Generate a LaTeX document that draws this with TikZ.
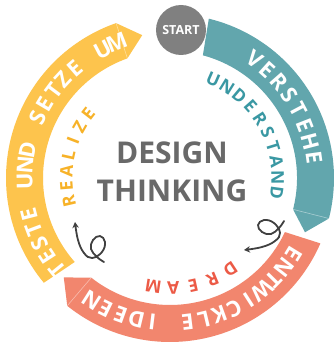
\documentclass[tikz,border=0pt]{standalone}
\usepackage{fontspec}
\setmainfont{Open Sans}
\usetikzlibrary{arrows.meta}
\definecolor{tealband}{RGB}{98,166,173}
\definecolor{salmonband}{RGB}{242,134,110}
\definecolor{orangeband}{RGB}{253,196,77}
\definecolor{startgray}{RGB}{128,128,128}
\definecolor{titlegray}{RGB}{105,105,105}
\definecolor{understandc}{RGB}{58,152,163}
\definecolor{realizec}{RGB}{247,178,40}
\definecolor{dreamc}{RGB}{236,90,70}
\definecolor{swirlc}{RGB}{64,64,64}
\tikzset{
  fold/.style={draw=white, draw opacity=0.45, line width=0.6pt},
  swirl/.style={draw=swirlc, line width=1.8pt, line cap=round, -{Stealth[length=6pt,width=6.5pt]}},
  titletext/.style={text=titlegray, font=\bfseries\fontsize{30pt}{30pt}\selectfont, anchor=base, inner sep=0pt},
  ringletter/.style={anchor=base, inner sep=0pt},
}
\newlength\rtw
\newlength\rtotal
\newlength\rpos
\newcount\rtn
\newcommand\rsp{\hspace*{0.12em}}
% #1 baseline radius, #2 start angle, #3 end angle (clockwise), #4 font, #5 colour, #6 letters
\newcommand\ringtext[6]{%
  \global\rtotal=0pt\relax
  \global\rtn=0\relax
  \foreach \rl in {#6}{%
    \settowidth{\rtw}{#4\rl}%
    \global\advance\rtotal by \rtw
    \global\advance\rtn by 1\relax
  }%
  \pgfmathsetmacro\rtextra{((#1)*pi/180*((#2)-(#3)) - \the\rtotal)/(\the\rtn-1)}%
  \global\rpos=0pt\relax
  \foreach \rl in {#6}{%
    \settowidth{\rtw}{#4\rl}%
    \pgfmathsetmacro\rtang{(#2) - (\the\rpos + 0.5*\the\rtw)/(#1)*180/pi}%
    \node[ringletter, text=#5, rotate=\rtang-90] at (\rtang:#1pt) {#4\rl};
    \global\advance\rpos by \rtw
    \global\advance\rpos by \rtextra pt\relax
  }%
}
\begin{document}
\begin{tikzpicture}[x=1pt,y=1pt]
\useasboundingbox (-170pt,-165pt) rectangle (164pt,178pt);
\fill[white] (-170pt,-165pt) rectangle (164pt,178pt);
% teal band
\fill[tealband] (76.3:164pt) arc[start angle=76.3, end angle=-14.3, radius=164pt]
  -- (-21.9:145.5pt) -- (-14.3:127pt) arc[start angle=-14.3, end angle=75, radius=127pt] -- cycle;
\draw[fold] (-14.3:127pt) -- (-14.3:164pt);
% salmon band
\fill[salmonband] (-23.5:164pt) arc[start angle=-23.5, end angle=-128.8, radius=164pt]
  -- (-136.9:145.5pt) -- (-128.3:127pt) arc[start angle=-128.3, end angle=-25.2, radius=127pt] -- cycle;
\draw[fold] (-128.3:127pt) -- (-128.8:164pt);
% orange band
\fill[orangeband] (219.7:164pt) arc[start angle=219.7, end angle=109.2, radius=164pt]
  -- (101:145.5pt) -- (109.6:127pt) arc[start angle=109.6, end angle=221.4, radius=127pt] -- cycle;
\draw[fold] (109.6:127pt) -- (109.2:164pt);
% start
\node[circle, fill=startgray, minimum size=50pt, inner sep=0pt, text=white,
  font=\bfseries\fontsize{12.5pt}{12.5pt}\selectfont] (start) at (11pt,148pt) {START};
% ring texts
\ringtext{137.5}{54.5}{8}{\bfseries\fontsize{22pt}{22pt}\selectfont}{white}{V,E,R,S,T,E,H,E}
\ringtext{137.5}{-31.5}{-122.7}{\bfseries\fontsize{22pt}{22pt}\selectfont}{white}{E,N,T,W,I,C,K,L,E,\rsp,I,D,E,E,N}
\ringtext{137.5}{219}{111.5}{\bfseries\fontsize{22pt}{22pt}\selectfont}{white}{T,E,S,T,E,\rsp,U,N,D,\rsp,S,E,T,Z,E,\rsp,U,M}
% inner texts
\ringtext{101.5}{66.4}{-7.8}{\bfseries\fontsize{17.5pt}{17.5pt}\selectfont}{understandc}{U,N,D,E,R,S,T,A,N,D}
\ringtext{103.5}{-56.6}{-98.8}{\bfseries\fontsize{17.5pt}{17.5pt}\selectfont}{dreamc}{D,R,E,A,M}
\ringtext{97.5}{193}{142}{\bfseries\fontsize{17.5pt}{17.5pt}\selectfont}{realizec}{R,E,A,L,I,Z,E}
% title
\node[titletext] (design) at (2pt,15pt) {DESIGN};
\node[titletext] (thinking) at (2pt,-23.7pt) {THINKING};
% swirls
\begin{scope}[shift={(-70pt,-70pt)}]
\draw[swirl] plot[smooth, tension=0.7] coordinates {(4,-14) (-3,-9) (-9,-1) (-7,8) (0,12) (5,6) (2,-4) (-8,-10) (-16,-5) (-22,8) (-25,26)};
\end{scope}
\begin{scope}[shift={(100pt,-47pt)}, rotate=90]
\draw[swirl] plot[smooth, tension=0.7] coordinates {(4,-14) (-3,-9) (-9,-1) (-7,8) (0,12) (5,6) (2,-4) (-8,-10) (-16,-5) (-22,8) (-25,26)};
\end{scope}
\end{tikzpicture}
\end{document}
